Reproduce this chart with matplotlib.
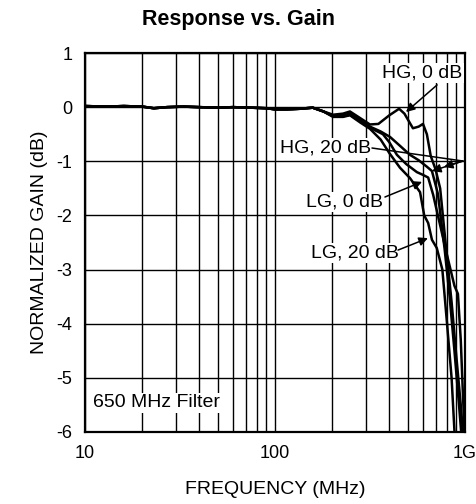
import numpy as np
import matplotlib
matplotlib.use('Agg')
import matplotlib.pyplot as plt

plt.rcParams['font.family'] = ['Liberation Sans', 'DejaVu Sans']
plt.rcParams['axes.unicode_minus'] = False

# shared low-frequency part (MHz, dB)
common_freq = [10, 13, 16, 20, 23, 27, 33, 40, 50, 60, 75, 90, 100, 115, 135, 158, 180]
common_gain = [0.02, 0.01, 0.02, 0.01, -0.02, 0.0, 0.01, 0.0, -0.01, 0.0, -0.01, -0.02,
               -0.04, -0.04, -0.03, -0.01, -0.08]

hg0_freq = [202, 228, 248, 280, 316, 350, 400, 450, 480, 532, 570, 601, 630, 660, 700,
            740, 790, 850, 900, 950, 990]
hg0_gain = [-0.14, -0.12, -0.08, -0.2, -0.32, -0.31, -0.15, -0.03, -0.12, -0.39, -0.36,
            -0.31, -0.5, -0.9, -1.15, -1.5, -2.5, -3.6, -4.6, -5.5, -6.3]

hg20_freq = [202, 228, 248, 280, 316, 360, 403, 450, 513, 570, 630, 670, 720, 780, 830,
             880, 930, 970]
hg20_gain = [-0.16, -0.15, -0.12, -0.24, -0.36, -0.45, -0.55, -0.7, -0.88, -0.98, -1.1,
             -1.18, -1.6, -2.6, -3.5, -4.5, -5.5, -6.3]

lg0_freq = [202, 228, 248, 280, 316, 370, 400, 438, 490, 558, 600, 640, 680, 720, 800,
            880, 918, 950, 975, 1000]
lg0_gain = [-0.17, -0.17, -0.14, -0.26, -0.38, -0.5, -0.65, -0.88, -1.05, -1.2, -1.25,
            -1.3, -1.62, -2.0, -2.7, -3.3, -3.45, -4.3, -5.3, -6.2]

lg20_freq = [202, 228, 248, 280, 316, 360, 400, 455, 513, 580, 610, 640, 670, 710, 760,
             800, 850, 890]
lg20_gain = [-0.18, -0.18, -0.15, -0.28, -0.4, -0.6, -0.85, -1.12, -1.31, -1.57, -2.0,
             -2.14, -2.45, -2.6, -3.0, -3.9, -5.0, -6.3]

yticks = [1, 0, -1, -2, -3, -4, -5, -6]
xticks = [10, 100, 1000]
xtick_labels = ['10', '100', '1G']

fig = plt.figure(figsize=(4.77, 5.04), dpi=100)
ax = fig.add_axes([85 / 477, 1 - 432 / 504, 380 / 477, 379 / 504])

for f, g in [(hg0_freq, hg0_gain), (hg20_freq, hg20_gain),
             (lg0_freq, lg0_gain), (lg20_freq, lg20_gain)]:
    ax.plot(common_freq + f, common_gain + g, color='black', lw=1.8, zorder=3)

ax.set_xscale('log')
ax.set_xlim(10, 1000)
ax.set_ylim(-6, 1)
ax.set_yticks(yticks)
ax.set_xticks(xticks)
ax.set_xticklabels(xtick_labels)
ax.minorticks_on()
ax.yaxis.set_minor_locator(matplotlib.ticker.NullLocator())
ax.xaxis.set_minor_formatter(matplotlib.ticker.NullFormatter())
ax.grid(True, which='both', axis='x', color='black', lw=1.0)
ax.grid(True, which='major', axis='y', color='black', lw=1.0)
ax.tick_params(which='both', length=0, labelsize=13, pad=9)
for s in ax.spines.values():
    s.set_linewidth(1.6)

ax.set_xlabel('FREQUENCY (MHz)', fontsize=14, labelpad=14)
ax.set_ylabel('NORMALIZED GAIN (dB)', fontsize=14, labelpad=6)
fig.text(0.5, 1 - 19 / 504, 'Response vs. Gain', ha='center', va='center',
         fontsize=15.5, fontweight='bold')

box = dict(facecolor='white', edgecolor='none', pad=1)
ax.text(11.0, -5.46, '650 MHz Filter', ha='left', va='center', fontsize=14, bbox=box, zorder=4)

arrow = dict(arrowstyle='-|>', color='black', lw=1.1, mutation_scale=13, shrinkA=0, shrinkB=0)
line = dict(arrowstyle='-', color='black', lw=1.1, shrinkA=0, shrinkB=0)

ax.text(594, 0.63, 'HG, 0 dB', ha='center', va='center', fontsize=14, bbox=box, zorder=4)
ax.annotate('', xy=(489, -0.09), xytext=(713, 0.41), arrowprops=arrow, zorder=5)

ax.text(185, -0.755, 'HG, 20 dB', ha='center', va='center', fontsize=14, bbox=box, zorder=4)
ax.annotate('', xy=(975, -0.995), xytext=(324, -0.755), arrowprops=line, zorder=5)
ax.annotate('', xy=(670, -1.18), xytext=(975, -0.995), arrowprops=arrow, zorder=5)
ax.annotate('', xy=(774, -1.105), xytext=(975, -0.995), arrowprops=arrow, zorder=5)

ax.text(233, -1.75, 'LG, 0 dB', ha='center', va='center', fontsize=14, bbox=box, zorder=4)
ax.annotate('', xy=(594, -1.38), xytext=(379, -1.66), arrowprops=arrow, zorder=5)

ax.text(262, -2.69, 'LG, 20 dB', ha='center', va='center', fontsize=14, bbox=box, zorder=4)
ax.annotate('', xy=(638, -2.42), xytext=(444, -2.64), arrowprops=arrow, zorder=5)

fig.savefig('out.png', dpi=100)
